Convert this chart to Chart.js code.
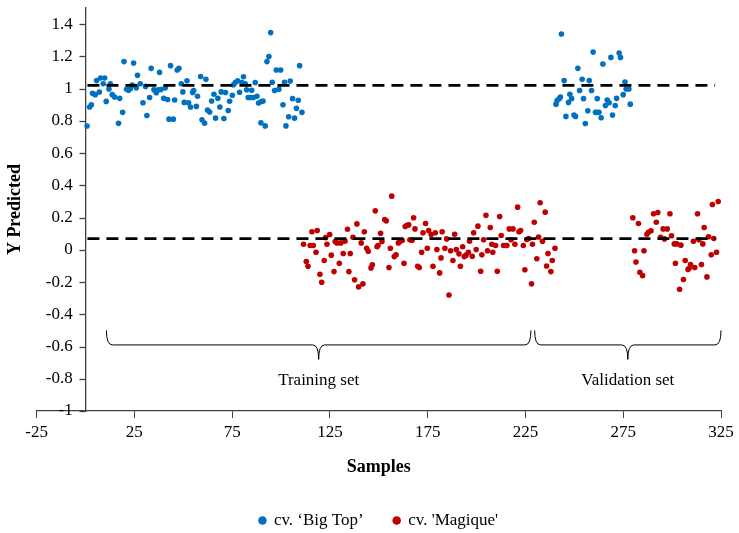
<!DOCTYPE html>
<html>
<head>
    <title>Y Predicted vs Samples</title>
    <script src="https://cdn.jsdelivr.net/npm/chart.js"></script>
    <style>
        body { margin: 0; background: #fff; }
    </style>
</head>
<body>
    <canvas id="myChart" width="739" height="533"></canvas>

    <script>
        // cv. 'Big Top' (training samples then validation samples)
        const bigTopSample = [
            0.8, 2.1, 3.0, 3.6, 5.0, 5.7, 7.1, 7.7, 9.1, 9.8, 10.6, 12.0, 12.7, 13.7, 14.9, 16.9, 17.5, 19.0, 19.7, 21.0,
            22.0, 22.9, 23.9, 24.6, 26.0, 26.6, 28.0, 29.4, 30.7, 31.4, 32.8, 33.6, 35.0, 36.2, 37.2, 37.9, 38.6, 40.0, 40.8, 42.0,
            42.7, 43.5, 44.9, 45.6, 46.9, 47.8, 49.0, 49.8, 50.5, 51.9, 52.7, 53.7, 54.8, 55.3, 56.7, 57.3, 58.9, 59.6, 60.9, 61.6,
            62.4, 63.5, 64.5, 65.7, 66.5, 67.7, 68.7, 69.4, 70.8, 71.6, 73.0, 73.7, 75.1, 75.7, 76.6, 77.8, 78.8, 80.0, 80.8, 81.7,
            82.4, 83.2, 84.3, 85.0, 85.8, 86.8, 87.7, 88.5, 89.7, 89.9, 90.8, 91.9, 92.8, 93.8, 94.7, 95.5, 96.7, 97.6, 98.9, 99.8,
            101.0, 101.8, 102.5, 103.9, 104.7, 105.9, 106.9, 107.9, 108.8, 109.5, 110.7,
            240.6, 241.2, 242.3, 242.9, 243.4, 244.8, 245.7, 247.0, 247.7, 248.6, 249.8, 250.6, 251.8, 252.7, 254.0, 254.7, 255.6,
            256.9, 257.6, 258.8, 259.6, 260.8, 261.5, 261.7, 262.6, 263.7, 264.6, 265.9, 266.8, 267.8, 268.7, 269.5, 270.9, 271.6,
            272.9, 273.6, 275.0, 275.9, 276.5, 277.9, 278.6
        ];
        const bigTopPredicted = [
            0.768, 0.886, 0.90, 0.971, 0.963, 1.05, 0.979, 1.066, 1.031, 1.066, 0.921, 0.998, 1.031, 0.963, 0.948, 0.785, 0.94, 0.853, 1.168, 0.996,
            0.99, 1.0, 1.022, 1.159, 1.005, 1.083, 1.031, 0.913, 1.014, 0.834, 0.945, 1.126, 0.993, 0.975, 0.993, 1.101, 0.995, 0.94, 1.005, 0.933,
            0.811, 1.143, 0.811, 0.93, 1.116, 1.126, 1.031, 0.98, 0.915, 1.049, 0.913, 0.886, 0.976, 0.989, 0.89, 0.953, 1.076, 0.807, 0.786, 1.058,
            0.867, 0.855, 0.924, 0.965, 0.817, 0.94, 0.886, 0.98, 0.815, 0.976, 0.865, 0.922, 0.959, 1.024, 1.038, 1.049, 0.978, 1.038, 1.074, 1.031,
            0.993, 0.945, 0.945, 0.99, 0.945, 1.038, 0.953, 0.911, 0.788, 0.92, 0.924, 0.769, 1.168, 1.2, 1.348, 1.04, 0.989, 1.116, 0.997, 1.116,
            0.9, 1.04, 0.769, 0.826, 1.047, 0.938, 0.817, 0.878, 0.928, 1.143, 0.853,
            0.904, 0.927, 0.938, 0.948, 1.339, 1.05, 0.828, 0.915, 0.965, 0.938, 0.836, 0.828, 1.126, 0.989, 1.058, 0.938, 0.784,
            0.863, 1.05, 0.989, 1.227, 0.853, 0.853, 0.938, 0.853, 0.82, 1.153, 0.896, 0.929, 0.913, 1.194, 0.836, 0.896, 0.94,
            1.221, 1.194, 0.963, 1.041, 0.998, 0.998, 0.904
        ];

        // cv. 'Magique' (training samples then validation samples)
        const magiqueSample = [
            111.5, 112.9, 113.8, 114.9, 115.8, 116.5, 117.9, 118.5, 119.9, 120.8, 122.1, 122.8, 123.5, 124.9, 125.7, 127.1, 127.7, 128.6, 129.8, 130.6,
            131.8, 132.7, 134.0, 134.7, 135.4, 136.8, 137.6, 138.8, 139.7, 141.0, 141.9, 142.6, 143.8, 144.6, 146.0, 146.7, 148.2, 149.1, 149.6, 150.9,
            151.6, 153.0, 153.8, 155.2, 155.9, 156.6, 157.9, 158.8, 160.0, 160.8, 162.0, 162.9, 163.5, 164.4, 165.3, 165.9, 167.0, 167.8, 168.5, 169.9,
            170.7, 171.9, 172.6, 173.9, 174.8, 175.5, 176.8, 177.7, 178.9, 179.7, 181.1, 181.8, 182.4, 183.8, 184.7, 185.9, 186.7, 187.9, 188.8, 189.6,
            191.0, 191.7, 192.9, 193.7, 194.6, 195.8, 196.4, 197.8, 198.5, 199.8, 200.7, 202.1, 202.7, 203.6, 204.8, 205.6, 207.0, 207.8, 208.3, 209.7,
            210.6, 211.8, 212.6, 213.8, 214.8, 215.5, 216.7, 217.6, 218.6, 219.6, 221.0, 221.7, 222.5, 223.9, 224.7, 225.7, 226.7, 228.1, 228.6, 229.5,
            230.8, 231.7, 232.5, 233.7, 235.1, 235.8, 236.5, 238.0, 238.7, 240.1,
            279.9, 280.8, 281.5, 282.8, 283.5, 284.9, 285.6, 287.1, 287.9, 289.2, 290.5, 291.9, 292.7, 294.1, 295.4, 296.1, 297.5, 298.9,
            299.7, 301.1, 301.7, 302.4, 303.8, 304.5, 305.8, 306.7, 308.1, 308.7, 309.4, 310.9, 311.6, 313.0, 313.7, 315.0, 315.7, 316.4,
            317.8, 318.6, 320.0, 320.6, 321.3, 322.7, 323.6
        ];
        const magiquePredicted = [
            0.035, -0.073, -0.102, 0.027, 0.112, 0.027, -0.015, 0.12, -0.151, -0.201, -0.066, 0.076, 0.035, 0.095, -0.033, -0.135, 0.052, 0.043, -0.083, 0.043,
            -0.023, 0.054, 0.128, -0.135, -0.023, 0.078, -0.186, 0.161, -0.23, 0.043, -0.211, 0.112, 0.01, -0.009, -0.112, -0.093, 0.242, 0.019, 0.027, 0.103,
            0.052, 0.188, 0.18, -0.11, 0.01, 0.333, -0.042, -0.031, 0.043, 0.052, 0.058, -0.083, 0.145, 0.153, 0.155, 0.062, 0.06, 0.199, 0.13, -0.102,
            -0.11, -0.015, 0.106, 0.163, 0.01, 0.12, 0.095, -0.102, 0.106, 0.002, -0.143, -0.05, 0.112, 0.01, 0.068, -0.28, -0.006, -0.066, 0.097, 0.002,
            -0.025, -0.102, 0.019, -0.042, -0.033, -0.015, 0.054, -0.04, 0.106, 0.002, 0.147, -0.133, -0.031, 0.062, 0.215, -0.006, 0.139, 0.035, -0.015, 0.027,
            -0.133, 0.207, 0.089, 0.027, 0.027, 0.027, 0.13, 0.062, 0.13, 0.035, 0.265, 0.112, 0.12, 0.027, -0.124, 0.064, 0.07, -0.211, 0.035, 0.171,
            -0.055, 0.08, 0.292, 0.053, 0.234, -0.1, -0.023, -0.135, -0.066, 0.01,
            0.199, -0.006, -0.075, 0.163, -0.139, -0.16, -0.006, 0.097, 0.109, 0.118, 0.224, 0.171, 0.232, 0.078, 0.13, 0.068, 0.13, 0.224,
            0.087, 0.037, -0.083, 0.037, -0.245, 0.029, -0.184, -0.066, -0.122, -0.114, -0.091, 0.053, -0.11, 0.224, 0.062, -0.091, 0.037, 0.139,
            -0.168, 0.081, -0.031, 0.281, 0.07, -0.015, 0.3
        ];

        // dashed mean lines
        const meanLineSample = [1, 322];
        const bigTopMean = 1.02;
        const magiqueMean = 0.07;

        // braces under the points
        const setNames = ['Training set', 'Validation set'];
        const setFrom = [10.7, 229.7];
        const setTo = [227.8, 325];

        const xTicks = [-25, 25, 75, 125, 175, 225, 275, 325];
        const yTicks = [-1, -0.8, -0.6, -0.4, -0.2, 0, 0.2, 0.4, 0.6, 0.8, 1, 1.2, 1.4];

        const toPoints = (xs, ys) => xs.map((x, i) => ({ x: x, y: ys[i] }));
        const serif = 'Liberation Serif';

        const bracePlugin = {
            id: 'braces',
            afterDatasetsDraw(chart) {
                const ctx = chart.ctx;
                const xs = chart.scales.x;
                const ys = chart.scales.y;
                const yTop = ys.getPixelForValue(-0.5);
                const yBar = ys.getPixelForValue(-0.59);
                const yTip = ys.getPixelForValue(-0.68);
                const yText = ys.getPixelForValue(-0.81);
                const r = 6;
                ctx.save();
                ctx.strokeStyle = '#000';
                ctx.lineWidth = 1;
                setNames.forEach((name, i) => {
                    const x1 = xs.getPixelForValue(setFrom[i]);
                    const x2 = xs.getPixelForValue(setTo[i]);
                    const xm = (x1 + x2) / 2;
                    ctx.beginPath();
                    ctx.moveTo(x1, yTop);
                    ctx.quadraticCurveTo(x1, yBar, x1 + r, yBar);
                    ctx.lineTo(xm - r, yBar);
                    ctx.quadraticCurveTo(xm, yBar, xm, yTip);
                    ctx.quadraticCurveTo(xm, yBar, xm + r, yBar);
                    ctx.lineTo(x2 - r, yBar);
                    ctx.quadraticCurveTo(x2, yBar, x2, yTop);
                    ctx.stroke();

                    ctx.fillStyle = '#000';
                    ctx.font = '17px "' + serif + '"';
                    ctx.textAlign = 'center';
                    ctx.textBaseline = 'middle';
                    ctx.fillText(name, xm, yText);
                });

                // y tick marks on the left of the inner axis line
                const axisX = xs.getPixelForValue(0);
                ctx.strokeStyle = '#404040';
                ctx.lineWidth = 1.3;
                yTicks.forEach(v => {
                    const py = Math.round(ys.getPixelForValue(v)) + 0.5;
                    ctx.beginPath();
                    ctx.moveTo(axisX - 6, py);
                    ctx.lineTo(axisX, py);
                    ctx.stroke();
                });
                ctx.restore();
            }
        };

        const ctx = document.getElementById('myChart').getContext('2d');
        new Chart(ctx, {
            type: 'scatter',
            data: {
                datasets: [
                    {
                        label: 'cv. \u2018Big Top\u2019',
                        data: toPoints(bigTopSample, bigTopPredicted),
                        backgroundColor: '#0070C0',
                        borderColor: '#0070C0',
                        pointRadius: 2.8,
                        borderWidth: 0,
                        order: 1
                    },
                    {
                        label: "cv. 'Magique'",
                        data: toPoints(magiqueSample, magiquePredicted),
                        backgroundColor: '#C00000',
                        borderColor: '#C00000',
                        pointRadius: 2.8,
                        borderWidth: 0,
                        order: 1
                    },
                    {
                        type: 'line',
                        label: 'mean Big Top',
                        data: toPoints(meanLineSample, meanLineSample.map(() => bigTopMean)),
                        borderColor: '#000',
                        borderWidth: 2.8,
                        borderDash: [12, 7],
                        pointRadius: 0,
                        fill: false,
                        order: 0
                    },
                    {
                        type: 'line',
                        label: 'mean Magique',
                        data: toPoints(meanLineSample, meanLineSample.map(() => magiqueMean)),
                        borderColor: '#000',
                        borderWidth: 2.8,
                        borderDash: [12, 7],
                        pointRadius: 0,
                        fill: false,
                        order: 0
                    }
                ]
            },
            options: {
                responsive: false,
                animation: false,
                layout: { padding: { left: 5, right: 18, top: 8, bottom: -6 } },
                plugins: {
                    tooltip: { enabled: false },
                    legend: {
                        position: 'bottom',
                        fullSize: false,
                        labels: {
                            filter: item => item.datasetIndex < 2,
                            usePointStyle: true,
                            pointStyle: 'circle',
                            boxWidth: 6,
                            boxHeight: 6,
                            padding: 30,
                            color: '#000',
                            font: { family: serif, size: 17 }
                        }
                    }
                },
                scales: {
                    x: {
                        type: 'linear',
                        position: 'bottom',
                        min: -25,
                        max: 325,
                        afterBuildTicks: scale => { scale.ticks = xTicks.map(v => ({ value: v })); },
                        ticks: {
                            color: '#000',
                            padding: 4,
                            maxRotation: 0,
                            font: { family: serif, size: 17 },
                            callback: v => String(v)
                        },
                        grid: { drawOnChartArea: false, drawTicks: true, tickLength: 7, color: '#404040' },
                        border: { color: '#404040', width: 1.3 },
                        title: {
                            display: true,
                            text: 'Samples',
                            color: '#000',
                            padding: { top: 10, bottom: 4 },
                            font: { family: serif, size: 18, weight: 'bold' }
                        }
                    },
                    y: {
                        type: 'linear',
                        position: { x: 0 },
                        min: -1,
                        max: 1.5,
                        afterBuildTicks: scale => { scale.ticks = yTicks.map(v => ({ value: v })); },
                        ticks: {
                            color: '#000',
                            font: { family: serif, size: 17, lineHeight: 0.6 },
                            // the axis sits inside the plot, so keep a gap before the line
                            callback: v => String(+v.toFixed(1)) + '   '
                        },
                        grid: { display: false },
                        border: { display: true, color: '#404040', width: 1.3 }
                    },
                    yTitle: {
                        type: 'linear',
                        position: 'left',
                        ticks: { display: false },
                        grid: { display: false },
                        border: { display: false },
                        title: {
                            display: true,
                            text: 'Y Predicted',
                            color: '#000',
                            padding: { top: 0, bottom: 2 },
                            font: { family: serif, size: 18, weight: 'bold' }
                        }
                    }
                }
            },
            plugins: [bracePlugin]
        });
    </script>
</body>
</html>
